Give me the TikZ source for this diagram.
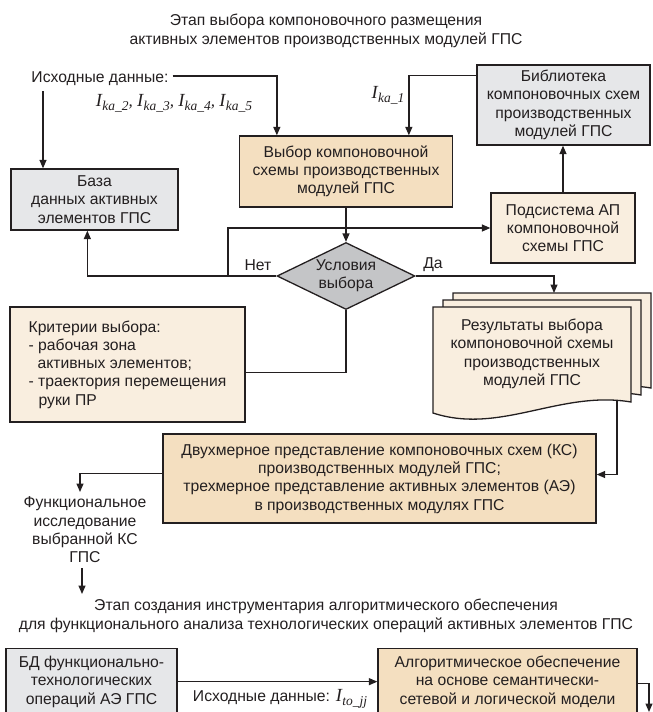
\documentclass[tikz,border=0pt]{standalone}
\usepackage{fontspec}
\setmainfont{Liberation Sans}
\newfontfamily\tms{Liberation Serif}
\usetikzlibrary{arrows.meta,shapes.geometric,calc}
\definecolor{grayfill}{HTML}{E6E7E9}
\definecolor{diafill}{HTML}{C4C5C7}
\definecolor{tanfill}{HTML}{F4DFC0}
\definecolor{lightfill}{HTML}{F9EEDF}
\definecolor{linec}{HTML}{231F20}
\newcommand{\Iv}[1]{{\tms\itshape\fontsize{18.5}{18.5}\selectfont I\kern0.3pt\raisebox{-0.45ex}{\fontsize{13.5}{13.5}\selectfont #1}}}
\newcommand{\docpath}[2]{(433+#1,307-#2) -- (631+#1,307-#2) -- (631+#1,402-#2) .. controls (560+#1,390-#2) and (500+#1,435-#2) .. (433+#1,413-#2) -- cycle}
\begin{document}
\begin{tikzpicture}[x=1pt,y=-1pt,
  every node/.style={font=\fontsize{15.7}{18.3}\selectfont, text=linec},
  boxbase/.style={draw=linec, line width=1.3pt, inner sep=0pt, align=center},
  graybox/.style={boxbase, fill=grayfill},
  tanbox/.style={boxbase, fill=tanfill},
  lightbox/.style={boxbase, fill=lightfill},
  conn/.style={draw=linec, line width=1.3pt},
  arr/.style={conn, -{Triangle[length=8.5pt,width=7pt]}},
  lbl/.style={inner sep=0pt},
  docstyle/.style={draw=linec, line width=1.3pt, fill=lightfill},
]
\useasboundingbox (0,0) rectangle (653,712);
\clip (0,0) rectangle (653,712);

% titles
\node[lbl, align=center] (t1) at (326,31) {Этап выбора компоновочного размещения\\активных элементов производственных модулей ГПС};
\node[lbl, align=center] (t2) at (326,616) {Этап создания инструментария алгоритмического обеспечения\\для функционального анализа технологических операций активных элементов ГПС};

% top part
\node[lbl] (isx) at (100,79) {Исходные данные:};
\node[lbl] (ika) at (174,103) {{\tms\itshape\fontsize{17}{17}\selectfont\Iv{ka\_2}, \Iv{ka\_3}, \Iv{ka\_4}, \Iv{ka\_5}}};
\node[lbl] (ika1) at (388,95) {\Iv{ka\_1}};

\node[graybox, minimum width=173, minimum height=80] (lib) at (563.5,105) {Библиотека\\компоновочных схем\\производственных\\модулей ГПС};
\node[tanbox, minimum width=213, minimum height=71] (vyb) at (346,171.5) {Выбор компоновочной\\схемы производственных\\модулей ГПС};
\node[graybox, minimum width=167, minimum height=61] (baza) at (94.5,199.5) {База\\данных активных\\элементов ГПС};
\node[lightbox, minimum width=144, minimum height=70] (pods) at (563,228) {Подсистема АП\\компоновочной\\схемы ГПС};
\node[diamond, aspect=2, draw=linec, line width=1.3pt, fill=diafill, minimum width=138, minimum height=67, inner sep=0pt, align=center] (cond) at (346,276) {Условия\\выбора};
\node[lbl] (net) at (258,265) {Нет};
\node[lbl] (da) at (433,265) {Да};

\node[lightbox, minimum width=235, minimum height=115, align=left] (krit) at (127.5,364.5) {Критерии выбора:\\- рабочая зона\\\hspace*{9pt}активных элементов;\\- траектория перемещения\\\hspace*{10pt}руки ПР};

% document stack
\path[docstyle] \docpath{20}{14};
\path[docstyle] \docpath{10}{7};
\path[docstyle] \docpath{0}{0};
\node[lbl, align=center] (res) at (532,354) {Результаты выбора\\компоновочной схемы\\производственных\\модулей ГПС};

\node[tanbox, minimum width=433, minimum height=89] (dvuh) at (379.5,478.5) {Двухмерное представление компоновочных схем (КС)\\производственных модулей ГПС;\\трехмерное представление активных элементов (АЭ)\\в производственных модулях ГПС};
\node[lbl, align=center] (func) at (85,530) {Функциональное\\исследование\\выбранной КС\\ГПС};

% bottom part
\node[graybox, minimum width=171, minimum height=66, anchor=north] (bd) at (91.5,648) {БД функционально-\\технологических\\операций АЭ ГПС};
\node[tanbox, minimum width=259, minimum height=66, anchor=north] (alg) at (507.5,648) {Алгоритмическое обеспечение\\на основе семантически-\\сетевой и логической модели};
\node[lbl] (isx2) at (280,699) {Исходные данные: \Iv{to\_jj}};

% coordinates for free ends
\coordinate (isxL) at (43,91);
\coordinate (j1) at (228,276);
\coordinate (dtop) at (554,293);
\coordinate (dbot) at (617,401);
\coordinate (fnTop) at (80,492);
\coordinate (fA) at (82,568);
\coordinate (fB) at (82,594);
\coordinate (algOut) at (649,712);

% connectors
\draw[arr] ([xshift=4pt,yshift=3pt]isx.east) -| ($(vyb.north west)+(38,0)$);
\draw[arr] (isxL) -- (isxL |- baza.north);
\draw[arr] ($(lib.north west)+(0,11)$) -| ($(vyb.north west)+(170,0)$);
\draw[arr] (pods.north) -- (pods.north |- lib.south);
\draw[arr] (vyb.south) -- (cond.north);
\draw[arr] (cond.west) -| ($(baza.south west)+(77,0)$);
\draw[arr] (j1) |- (pods.west);
\draw[arr] (cond.east) -| (dtop);
\draw[conn] (cond.south) |- ($(krit.east)+(0,8)$);
\draw[arr] (dbot) |- ($(dvuh.east)+(0,-4)$);
\draw[arr] ($(dvuh.west)+(0,-5)$) -| (fnTop);
\draw[arr] (fA) -- (fB);
\draw[arr] (bd.east) -- (alg.west);
\draw[arr] ([yshift=-2pt]alg.east) -| (algOut);
\end{tikzpicture}
\end{document}
